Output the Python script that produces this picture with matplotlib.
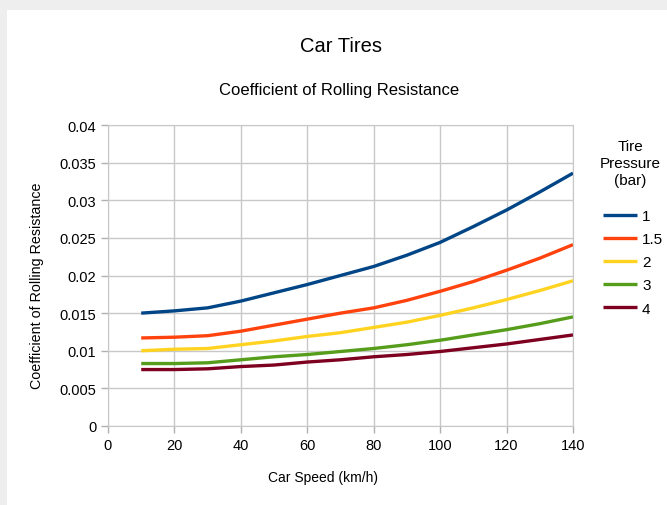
import matplotlib.pyplot as plt
from matplotlib.patches import Rectangle

plt.rcParams['font.family'] = ['Liberation Sans', 'DejaVu Sans']

speed = [10, 20, 30, 40, 50, 60, 70, 80, 90, 100, 110, 120, 130, 140]
crr_1 = [0.0150, 0.0153, 0.0157, 0.0166, 0.0177, 0.0188, 0.0200, 0.0212,
         0.0227, 0.0244, 0.0265, 0.0287, 0.0311, 0.0336]
crr_15 = [0.0117, 0.0118, 0.0120, 0.0126, 0.0134, 0.0142, 0.0150, 0.0157,
          0.0167, 0.0179, 0.0192, 0.0207, 0.0223, 0.0241]
crr_2 = [0.0100, 0.0102, 0.0103, 0.0108, 0.0113, 0.0119, 0.0124, 0.0131,
         0.0138, 0.0147, 0.0157, 0.0168, 0.0180, 0.0193]
crr_3 = [0.0083, 0.0083, 0.0084, 0.0088, 0.0092, 0.0095, 0.0099, 0.0103,
         0.0108, 0.0114, 0.0121, 0.0128, 0.0136, 0.0145]
crr_4 = [0.0075, 0.0075, 0.0076, 0.0079, 0.0081, 0.0085, 0.0088, 0.0092,
         0.0095, 0.0099, 0.0104, 0.0109, 0.0115, 0.0121]

series = [("1", crr_1, "#004586"),
          ("1.5", crr_15, "#ff420e"),
          ("2", crr_2, "#ffd320"),
          ("3", crr_3, "#579d1c"),
          ("4", crr_4, "#7e0021")]

x_ticks = [0, 20, 40, 60, 80, 100, 120, 140]
y_ticks = [0, 0.005, 0.01, 0.015, 0.02, 0.025, 0.03, 0.035, 0.04]
y_labels = ["0", "0.005", "0.01", "0.015", "0.02", "0.025", "0.03", "0.035", "0.04"]

fig = plt.figure(figsize=(6.67, 5.06), dpi=100)
fig.patch.set_facecolor("#eeeeee")
fig.patches.append(Rectangle((7 / 667, 0), 1, 1 - 11 / 506, transform=fig.transFigure,
                             facecolor="white", edgecolor="none", zorder=-10))

ax = fig.add_axes([108 / 667, 79 / 506, 465 / 667, 301 / 506])
ax.set_zorder(5)
ax.set_facecolor("white")

for label, vals, col in series:
    ax.plot(speed, vals, color=col, lw=2.4, label=label, solid_capstyle="butt")

ax.set_xlim(0, 140)
ax.set_ylim(0, 0.04)
ax.set_xticks(x_ticks)
ax.set_yticks(y_ticks)
ax.set_yticklabels(y_labels)
ax.grid(True, color="#c8c8c8", lw=1)
ax.set_axisbelow(True)
for s in ax.spines.values():
    s.set_color("#c8c8c8")
ax.tick_params(colors="#b0b0b0", labelcolor="black", labelsize=10.5, length=5, width=1)

# Achsentitel, wie im Original etwas versetzt
fig.text(323 / 667, 1 - 478 / 506, "Car Speed (km/h)", ha="center", va="center",
         fontsize=10)
fig.text(37 / 667, 1 - 286 / 506, "Coefficient of Rolling Resistance", ha="center",
         va="center", rotation=90, fontsize=10.3)

fig.text(341 / 667, 1 - 47 / 506, "Car Tires", ha="center", va="center", fontsize=14.5)
fig.text(339 / 667, 1 - 90 / 506, "Coefficient of Rolling Resistance",
         ha="center", va="center", fontsize=12)

# Legendentitel separat, damit die Abstaende passen
fig.text(630 / 667, 1 - 164 / 506, "Tire\nPressure\n(bar)", ha="center", va="center",
         multialignment="center", fontsize=11, linespacing=1.28)

leg = ax.legend(loc="upper left",
                bbox_to_anchor=((603 - 108) / 465, (427 - 210) / 301),
                frameon=False, fontsize=11,
                handlelength=2.2, handletextpad=0.35, labelspacing=0.6,
                borderpad=0, borderaxespad=0)

fig.savefig("out.png", dpi=100, facecolor=fig.get_facecolor())
